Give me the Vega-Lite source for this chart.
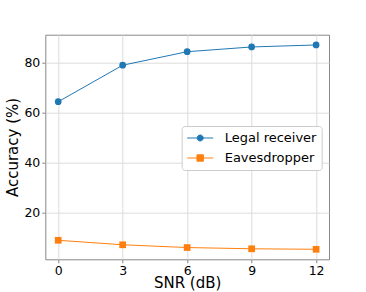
{
  "$schema": "https://vega.github.io/schema/vega-lite/v6.json",
  "autosize": {"type": "none"},
  "padding": {"left": 45.3, "top": 34.7, "right": 36, "bottom": 32},
  "width": 283.7,
  "height": 224.6,
  "background": "white",
  "config": {
    "font": "DejaVu Sans",
    "view": {"stroke": "#888888", "strokeWidth": 1},
    "axis": {
      "grid": true,
      "gridColor": "#dcdcdc",
      "gridWidth": 1,
      "domain": false,
      "tickColor": "#888888",
      "tickSize": 3.5,
      "labelFontSize": 12.5,
      "labelColor": "black",
      "labelFont": "DejaVu Sans",
      "titleFont": "DejaVu Sans",
      "titleFontSize": 15,
      "titleFontWeight": "normal",
      "titleColor": "black"
    }
  },
  "data": {
    "values": [
      {"snr": 0, "acc": 64.2, "series": "Legal receiver"},
      {"snr": 3, "acc": 78.8, "series": "Legal receiver"},
      {"snr": 6, "acc": 84.2, "series": "Legal receiver"},
      {"snr": 9, "acc": 86.1, "series": "Legal receiver"},
      {"snr": 12, "acc": 86.9, "series": "Legal receiver"},
      {"snr": 0, "acc": 8.8, "series": "Eavesdropper"},
      {"snr": 3, "acc": 7.0, "series": "Eavesdropper"},
      {"snr": 6, "acc": 5.9, "series": "Eavesdropper"},
      {"snr": 9, "acc": 5.4, "series": "Eavesdropper"},
      {"snr": 12, "acc": 5.2, "series": "Eavesdropper"}
    ]
  },
  "encoding": {
    "x": {
      "field": "snr", "type": "quantitative",
      "scale": {"domain": [-0.6, 12.6], "nice": false, "zero": false},
      "axis": {"values": [0, 3, 6, 9, 12], "title": "SNR (dB)", "labelPadding": 1.5, "titlePadding": -1}
    },
    "y": {
      "field": "acc", "type": "quantitative",
      "scale": {"domain": [1.2, 91], "nice": false, "zero": false},
      "axis": {"values": [20, 40, 60, 80], "title": "Accuracy (%)", "labelPadding": 2, "titlePadding": 3.5}
    },
    "color": {
      "field": "series", "type": "nominal",
      "scale": {"domain": ["Legal receiver", "Eavesdropper"], "range": ["#1f77b4", "#ff7f0e"]},
      "legend": {
        "title": null,
        "orient": "none",
        "legendX": 136.4,
        "legendY": 91.3,
        "padding": 5,
        "fillColor": "white",
        "strokeColor": "#cccccc",
        "cornerRadius": 3,
        "labelFontSize": 13,
        "labelFont": "DejaVu Sans",
        "labelColor": "black",
        "labelOffset": 24,
        "rowPadding": 6,
        "symbolSize": 169,
        "symbolStrokeWidth": 1
      }
    }
  },
  "layer": [
    {
      "mark": {"type": "line", "strokeWidth": 1}
    },
    {
      "transform": [{"filter": "datum.series === 'Legal receiver'"}],
      "mark": {"type": "point", "filled": true, "opacity": 1, "shape": "circle", "size": 45}
    },
    {
      "transform": [{"filter": "datum.series === 'Eavesdropper'"}],
      "mark": {"type": "point", "filled": true, "opacity": 1, "shape": "square", "size": 45}
    },
    {
      "mark": {"type": "point", "filled": true, "opacity": 1, "size": 0, "strokeWidth": 1},
      "encoding": {
        "shape": {
          "field": "series", "type": "nominal",
          "scale": {"domain": ["Legal receiver", "Eavesdropper"], "range": ["M-1,0L3,0M1.46,0A0.46,0.46,0,1,1,0.54,0A0.46,0.46,0,1,1,1.46,0Z", "M-1,0L3,0M0.51,-0.49L1.49,-0.49L1.49,0.49L0.51,0.49Z"]},
          "legend": {
            "title": null,
            "orient": "none",
            "legendX": 136.4,
            "legendY": 91.3,
            "symbolSize": 169,
            "symbolStrokeWidth": 1
          }
        },
        "stroke": {
          "field": "series", "type": "nominal",
          "scale": {"domain": ["Legal receiver", "Eavesdropper"], "range": ["#1f77b4", "#ff7f0e"]},
          "legend": {
            "title": null,
            "orient": "none",
            "legendX": 136.4,
            "legendY": 91.3,
            "symbolSize": 169,
            "symbolStrokeWidth": 1
          }
        }
      }
    }
  ]
}
